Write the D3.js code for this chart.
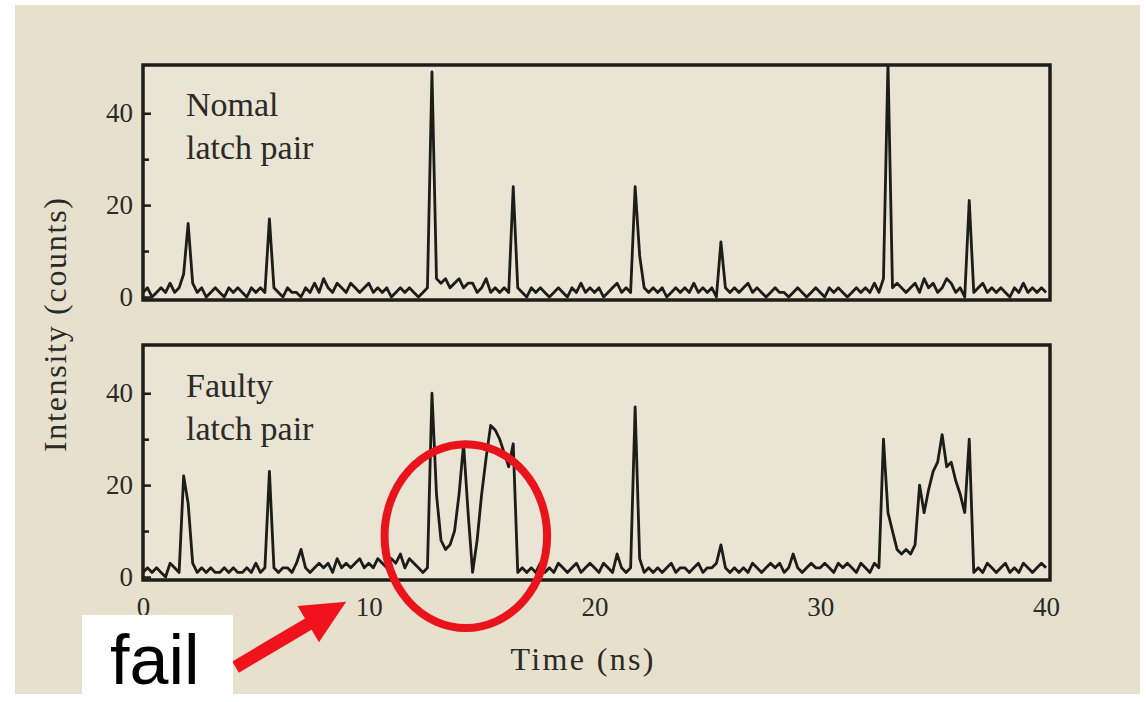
<!DOCTYPE html>
<html>
<head>
<meta charset="utf-8">
<script src="https://cdn.jsdelivr.net/npm/d3@7"></script>
<style>
body { margin: 0; background: #fff; }
svg { display: block; }
</style>
</head>
<body>
<script>
var width = 1146;
var height = 702;

// photon counts every 0.2 ns, from 0 to 40 ns
var dt = 0.2;
var normalCounts = [
1,2,0,1,2,1,3,1,2,5,
16,3,1,2,0,1,2,1,0,2,
1,2,1,0,2,1,2,1,17,2,
1,0,2,1,1,0,2,1,3,1,
4,2,1,3,2,1,3,2,1,2,
3,1,2,1,2,0,1,2,1,2,
1,0,1,2,49,4,3,4,2,3,
4,2,3,3,1,2,4,1,2,1,
2,1,24,2,1,0,2,1,2,1,
0,1,2,1,0,2,1,3,1,2,
1,2,0,1,2,3,1,2,1,24,
9,2,1,2,1,2,0,1,2,1,
2,1,3,1,2,1,2,0,12,2,
1,2,1,2,3,1,2,1,0,1,
2,1,1,0,1,2,1,0,1,2,
1,0,2,1,2,1,0,1,2,1,
2,1,3,1,4,51,2,3,2,1,
2,3,1,4,2,3,1,2,4,3,
1,2,0,21,1,2,3,1,2,1,
2,1,0,2,1,3,1,2,1,2,
1];
var faultyCounts = [
1,2,1,2,1,0,3,2,1,22,
16,3,1,2,1,2,1,1,2,1,
2,1,1,2,1,3,1,2,23,2,
1,2,2,1,3,6,2,1,2,3,
2,3,1,4,2,3,2,3,4,2,
3,2,4,3,2,4,3,5,2,4,
3,2,1,2,40,18,8,6,7,10,
18,29,14,1,8,18,26,33,32,30,
27,24,29,1,2,1,2,1,3,1,
2,1,3,2,1,2,3,1,2,3,
2,1,3,2,1,5,2,1,2,37,
4,1,2,1,2,1,2,3,1,2,
2,1,2,3,1,2,2,3,7,2,
1,2,1,2,1,3,2,1,2,3,
2,3,1,2,5,2,1,2,3,2,
2,3,2,1,3,2,3,2,1,3,
2,1,3,2,30,14,10,6,5,6,
5,7,20,14,19,23,25,31,24,25,
21,18,14,30,1,2,1,3,2,1,
2,3,1,2,1,3,2,1,2,3,
2];
var panelLabels = [["Nomal", "latch pair"], ["Faulty", "latch pair"]];
var xTicks = [0, 10, 20, 30, 40];
var yTicks = [0, 20, 40];
var yMinorTicks = [10, 30];

// red annotation in data units of the lower panel
var failCircle = {t: 14.3, c: 8.9, rt: 3.6, rc: 20};
var failArrow = {from: [4.1, -19.6], to: [9.0, -5.4]};

var svg = d3.select("body").append("svg")
  .attr("width", width)
  .attr("height", height);

svg.append("rect")
  .attr("x", 15).attr("y", 5)
  .attr("width", 1125).attr("height", 689)
  .attr("fill", "#e6e0cc");

var x = d3.scaleLinear()
  .domain([0, 40])
  .range([143, 1046]);

var panels = [
  {counts: normalCounts, label: panelLabels[0], top: 65, bottom: 300},
  {counts: faultyCounts, label: panelLabels[1], top: 345, bottom: 580}
];

panels.forEach(function(p, i) {
  p.y = d3.scaleLinear().domain([0, 50.5]).range([p.bottom - 3, p.top]);

  var g = svg.append("g").attr("class", "panel");

  g.append("clipPath").attr("id", "clip" + i)
    .append("rect")
    .attr("x", 143).attr("y", p.top)
    .attr("width", 907).attr("height", p.bottom - p.top);

  g.append("rect")
    .attr("x", 143).attr("y", p.top)
    .attr("width", 907).attr("height", p.bottom - p.top)
    .attr("fill", "#e9e4d3");

  var line = d3.line()
    .x(function(d, j) { return x(j * dt); })
    .y(function(d) { return p.y(d); });

  g.append("path")
    .datum(p.counts)
    .attr("clip-path", "url(#clip" + i + ")")
    .attr("fill", "none")
    .attr("stroke", "#1c1c18")
    .attr("stroke-width", 2.8)
    .attr("stroke-linejoin", "round")
    .attr("d", line);

  g.append("rect")
    .attr("x", 143).attr("y", p.top)
    .attr("width", 907).attr("height", p.bottom - p.top)
    .attr("fill", "none")
    .attr("stroke", "#1c1c18")
    .attr("stroke-width", 3.5);

  var ya = g.append("g")
    .attr("transform", "translate(143,0)")
    .call(d3.axisLeft(p.y).tickValues(yTicks).tickSize(-8).tickPadding(10));
  ya.select(".domain").remove();
  ya.selectAll("line").attr("stroke", "#1c1c18").attr("stroke-width", 2.5);
  ya.selectAll("text")
    .attr("font-family", "Liberation Serif")
    .attr("font-size", 27)
    .attr("fill", "#2a2a26");

  var ym = g.append("g")
    .attr("transform", "translate(143,0)")
    .call(d3.axisLeft(p.y).tickValues(yMinorTicks).tickSize(-6).tickFormat(""));
  ym.select(".domain").remove();
  ym.selectAll("line").attr("stroke", "#1c1c18").attr("stroke-width", 2.5);

  g.selectAll(".plabel")
    .data(p.label)
    .enter().append("text")
    .attr("class", "plabel")
    .attr("x", 186)
    .attr("y", function(d, j) { return p.top + (i ? 52 : 51) + j * 43; })
    .attr("font-family", "Liberation Serif")
    .attr("font-size", 34)
    .attr("fill", "#2a2a26")
    .text(function(d) { return d; });
});

var xa = svg.append("g")
  .attr("transform", "translate(0,580)")
  .call(d3.axisBottom(x).tickValues(xTicks).tickSize(0).tickPadding(17));
xa.select(".domain").remove();
xa.selectAll("text")
  .attr("font-family", "Liberation Serif")
  .attr("font-size", 27)
  .attr("fill", "#2a2a26");

svg.append("text")
  .attr("x", 582).attr("y", 670)
  .attr("text-anchor", "middle")
  .attr("font-family", "Liberation Serif")
  .attr("font-size", 32)
  .attr("fill", "#2a2a26")
  .attr("textLength", 143)
  .attr("lengthAdjust", "spacing")
  .text("Time  (ns)");

svg.append("text")
  .attr("transform", "translate(66,325) rotate(-90)")
  .attr("text-anchor", "middle")
  .attr("font-family", "Liberation Serif")
  .attr("font-size", 32)
  .attr("fill", "#2a2a26")
  .attr("textLength", 254)
  .attr("lengthAdjust", "spacing")
  .text("Intensity  (counts)");

// annotation
var yb = panels[1].y;
svg.append("ellipse")
  .attr("cx", x(failCircle.t))
  .attr("cy", yb(failCircle.c))
  .attr("rx", x(failCircle.t + failCircle.rt) - x(failCircle.t))
  .attr("ry", yb(0) - yb(failCircle.rc))
  .attr("fill", "none")
  .attr("stroke", "#e8131b")
  .attr("stroke-width", 8);

var p0 = [x(failArrow.from[0]), yb(failArrow.from[1])];
var p1 = [x(failArrow.to[0]), yb(failArrow.to[1])];
var dx = p1[0] - p0[0], dy = p1[1] - p0[1];
var len = Math.sqrt(dx * dx + dy * dy);
var ux = dx / len, uy = dy / len, nx = -uy, ny = ux;
var headLen = 44, headW = 21, shaftW = 6.5;
var hb = [p1[0] - ux * headLen, p1[1] - uy * headLen];
var arrowPts = [
  [p0[0] + nx * shaftW, p0[1] + ny * shaftW],
  [hb[0] + nx * shaftW, hb[1] + ny * shaftW],
  [hb[0] + nx * headW, hb[1] + ny * headW],
  p1,
  [hb[0] - nx * headW, hb[1] - ny * headW],
  [hb[0] - nx * shaftW, hb[1] - ny * shaftW],
  [p0[0] - nx * shaftW, p0[1] - ny * shaftW]
];
svg.append("polygon")
  .attr("points", arrowPts.map(function(d) { return d.join(","); }).join(" "))
  .attr("fill", "#f0131b");

svg.append("rect")
  .attr("x", 82).attr("y", 615)
  .attr("width", 151).attr("height", 87)
  .attr("fill", "#ffffff");

svg.append("text")
  .attr("x", 110).attr("y", 684)
  .attr("font-family", "Liberation Sans")
  .attr("font-size", 70)
  .attr("fill", "#000")
  .text("fail");
</script>
</body>
</html>
